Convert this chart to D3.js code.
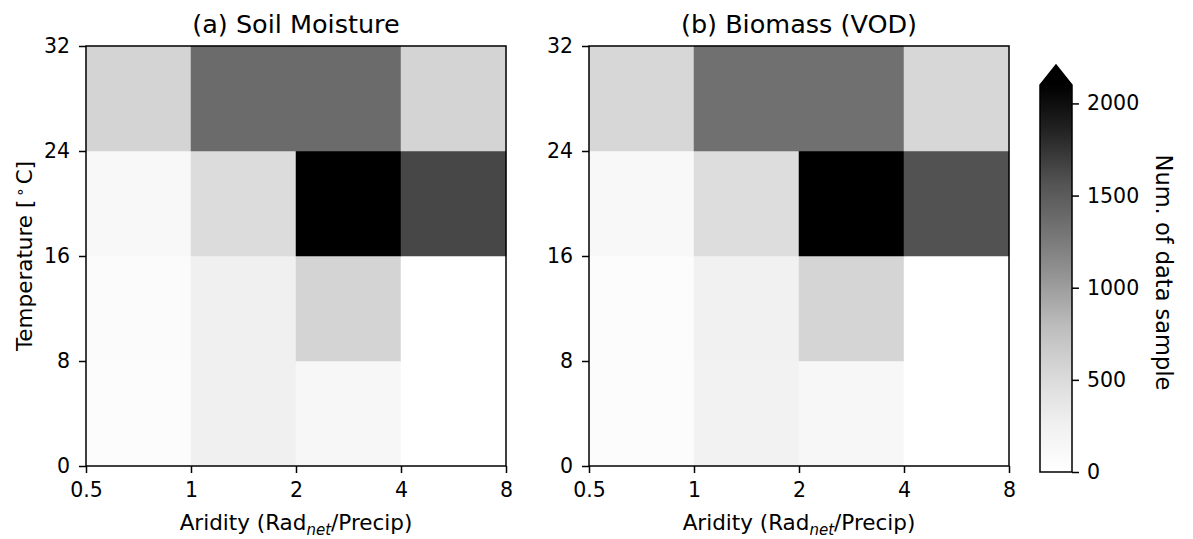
<!DOCTYPE html>
<html>
<head>
<meta charset="utf-8">
<script src="https://cdn.jsdelivr.net/npm/d3@7"></script>
<style>
  body { margin: 0; background: #fff; }
  svg { display: block; font-family: "DejaVu Sans", sans-serif; }
</style>
</head>
<body>
<svg id="chart" width="1193" height="539"></svg>
<script>
// ---- data ----
const aridityEdges = [0.5, 1, 2, 4, 8];
const tempEdges = [0, 8, 16, 24, 32];
const xTickLabels = ["0.5", "1", "2", "4", "8"];
const yTickLabels = ["0", "8", "16", "24", "32"];
const cbTicks = [0, 500, 1000, 1500, 2000];
const panelTitles = ["(a) Soil Moisture", "(b) Biomass (VOD)"];
// rows: temperature bins bottom->top; columns: aridity bins left->right
const soilMoisture = [
  [52, 262, 140, 0],
  [70, 262, 572, 0],
  [123, 491, 2350, 1640],
  [572, 1375, 1375, 572]
];
const biomassVOD = [
  [52, 225, 140, 0],
  [52, 240, 560, 0],
  [123, 479, 2350, 1575],
  [544, 1336, 1336, 544]
];
const vmax = 2100;
const greys = ["#ffffff","#f0f0f0","#d9d9d9","#bdbdbd","#969696","#737373","#525252","#252525","#000000"];

// ---- setup ----
const svg = d3.select("#chart");
const color = d3.scaleLinear()
  .domain(greys.map((_, i) => i / (greys.length - 1) * vmax))
  .range(greys).clamp(true);

const plotTop = 46, plotBottom = 466;
const panels = [
  { left: 86, right: 506, data: soilMoisture, title: panelTitles[0], ylabel: true },
  { left: 589, right: 1009, data: biomassVOD, title: panelTitles[1], ylabel: false }
];

panels.forEach(p => {
  const x = d3.scaleLog().base(2).domain([0.5, 8]).range([p.left, p.right]);
  const y = d3.scaleLinear().domain([0, 32]).range([plotBottom, plotTop]);
  const g = svg.append("g");

  const cells = [];
  p.data.forEach((row, ri) => row.forEach((v, ci) => cells.push({
    x0: aridityEdges[ci], x1: aridityEdges[ci + 1],
    y0: tempEdges[ri], y1: tempEdges[ri + 1], v
  })));
  g.selectAll("rect.cell").data(cells).join("rect")
    .attr("class", "cell")
    .attr("x", d => x(d.x0))
    .attr("y", d => y(d.y1))
    .attr("width", d => x(d.x1) - x(d.x0))
    .attr("height", d => y(d.y0) - y(d.y1))
    .attr("fill", d => color(d.v))
    .attr("stroke", d => color(d.v))
    .attr("stroke-width", 0.5);

  // frame
  g.append("rect")
    .attr("x", p.left).attr("y", plotTop)
    .attr("width", p.right - p.left).attr("height", plotBottom - plotTop)
    .attr("fill", "none").attr("stroke", "#000").attr("stroke-width", 1.5);

  const xa = g.append("g").attr("transform", `translate(0,${plotBottom})`)
    .call(d3.axisBottom(x).tickValues(aridityEdges)
      .tickFormat((d, i) => xTickLabels[i]).tickSize(7).tickPadding(9).tickSizeOuter(0));
  const ya = g.append("g").attr("transform", `translate(${p.left},0)`)
    .call(d3.axisLeft(y).tickValues(tempEdges)
      .tickFormat((d, i) => yTickLabels[i]).tickSize(7).tickPadding(9).tickSizeOuter(0));
  [xa, ya].forEach(a => {
    a.select(".domain").remove();
    a.selectAll("line").attr("stroke", "#000").attr("stroke-width", 1.5);
    a.selectAll("text").attr("font-size", 20.5).attr("fill", "#000")
      .attr("font-family", "DejaVu Sans");
  });

  g.append("text")
    .attr("x", (p.left + p.right) / 2).attr("y", 33)
    .attr("text-anchor", "middle").attr("font-size", 25.5)
    .text(p.title);

  const xl = g.append("text")
    .attr("x", (p.left + p.right) / 2).attr("y", 530)
    .attr("text-anchor", "middle").attr("font-size", 21.5);
  xl.append("tspan").text("Aridity (Rad");
  xl.append("tspan").attr("font-size", 15).attr("font-style", "italic").attr("dy", 5).text("net");
  xl.append("tspan").attr("dy", -5).text("/Precip)");

  if (p.ylabel) {
    const yl = g.append("text")
      .attr("transform", `translate(32,${(plotTop + plotBottom) / 2}) rotate(-90)`)
      .attr("text-anchor", "middle").attr("font-size", 21.5);
    yl.append("tspan").text("Temperature [");
    yl.append("tspan").attr("font-size", 15).attr("dy", -7).text("\u2009\u2218\u2009");
    yl.append("tspan").attr("dy", 7).text("C]");
  }
});

// ---- colorbar ----
const cbL = 1040, cbR = 1072, cbBottom = 472, cbTop = 85, cbTip = 65;
const cy = d3.scaleLinear().domain([0, vmax]).range([cbBottom, cbTop]);
const defs = svg.append("defs");
const grad = defs.append("linearGradient").attr("id", "cbgrad")
  .attr("x1", 0).attr("y1", 1).attr("x2", 0).attr("y2", 0);
grad.selectAll("stop").data(greys).join("stop")
  .attr("offset", (d, i) => i / (greys.length - 1))
  .attr("stop-color", d => d);
svg.append("rect").attr("x", cbL).attr("y", cy(vmax))
  .attr("width", cbR - cbL).attr("height", cy(0) - cy(vmax))
  .attr("fill", "url(#cbgrad)");
svg.append("path")
  .attr("d", `M${cbL},${cy(vmax)}L${(cbL + cbR) / 2},${cbTip}L${cbR},${cy(vmax)}Z`)
  .attr("fill", color(vmax + 1));
svg.append("path")
  .attr("d", `M${cbL},${cy(0)}L${cbL},${cy(vmax)}L${(cbL + cbR) / 2},${cbTip}L${cbR},${cy(vmax)}L${cbR},${cy(0)}Z`)
  .attr("fill", "none").attr("stroke", "#000").attr("stroke-width", 1.5);
const cba = svg.append("g").attr("transform", `translate(${cbR},0)`)
  .call(d3.axisRight(cy).tickValues(cbTicks).tickFormat(d3.format("d"))
    .tickSize(7).tickPadding(8).tickSizeOuter(0));
cba.select(".domain").remove();
cba.selectAll("line").attr("stroke", "#000").attr("stroke-width", 1.5);
cba.selectAll("text").attr("font-size", 20.5).attr("fill", "#000").attr("font-family", "DejaVu Sans");
svg.append("text")
  .attr("transform", `translate(1156,${(cbTop + cbBottom) / 2 - 6}) rotate(90)`)
  .attr("text-anchor", "middle").attr("font-size", 22.5)
  .text("Num. of data sample");
</script>
</body>
</html>
